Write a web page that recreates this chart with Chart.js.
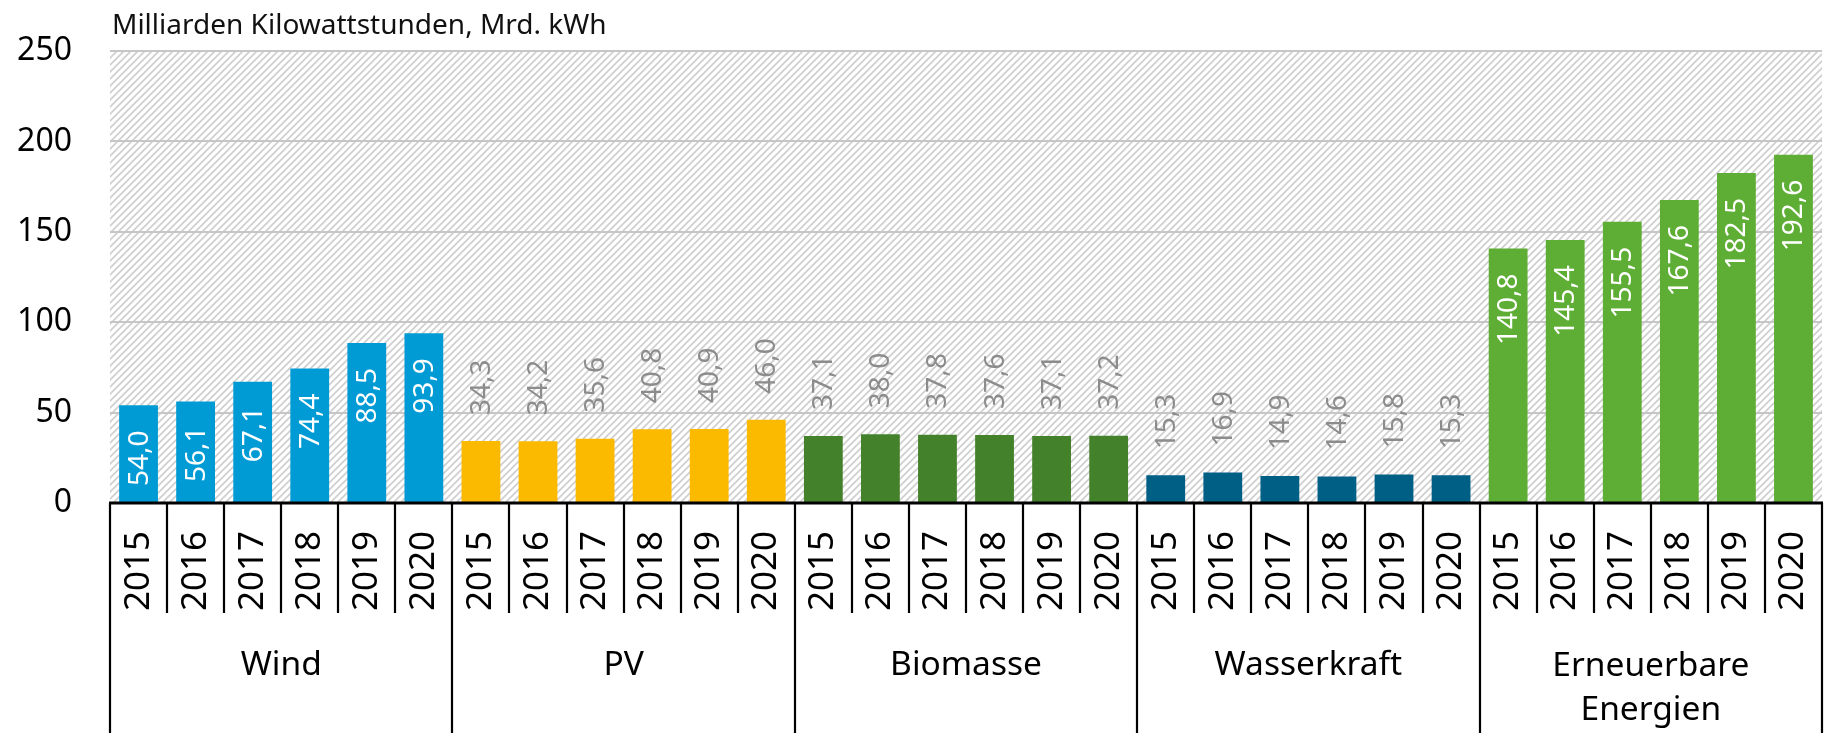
<!DOCTYPE html>
<html>
<head>
<meta charset="utf-8">
<script src="https://cdn.jsdelivr.net/npm/chart.js@4.4.1/dist/chart.umd.min.js"></script>
<style>
  html, body { margin: 0; padding: 0; background: #fff; }
  #c { display: block; }
</style>
</head>
<body>
<canvas id="c" width="1837" height="733"></canvas>
<script>
/* Stromerzeugung aus erneuerbaren Energien 2015-2020 */

const TITLE = 'Milliarden Kilowattstunden, Mrd. kWh';
const YEARS = ['2015', '2016', '2017', '2018', '2019', '2020'];
const GROUPS = [['Wind'], ['PV'], ['Biomasse'], ['Wasserkraft'], ['Erneuerbare', 'Energien']];

const WIND = [54.0, 56.1, 67.1, 74.4, 88.5, 93.9];
const PV = [34.3, 34.2, 35.6, 40.8, 40.9, 46.0];
const BIOMASSE = [37.1, 38.0, 37.8, 37.6, 37.1, 37.2];
const WASSER = [15.3, 16.9, 14.9, 14.6, 15.8, 15.3];
const EE_GESAMT = [140.8, 145.4, 155.5, 167.6, 182.5, 192.6];

const Y_TICKS = [0, 50, 100, 150, 200, 250];

const GROUP_COLORS = ['#009bd5', '#fbb900', '#43812b', '#005f85', '#5ead35'];
const LABEL_INSIDE = [true, false, false, false, true];

const FONT = '"Noto Sans", "Open Sans", sans-serif';

const series = [WIND, PV, BIOMASSE, WASSER, EE_GESAMT];
const values = series.flat();
const labels = series.flatMap(() => YEARS);
const groupOf = (i) => Math.floor(i / YEARS.length);

// Schraffur für den Hintergrund
function hatchPattern(ctx) {
  const s = 7;
  const tile = document.createElement('canvas');
  tile.width = s; tile.height = s;
  const t = tile.getContext('2d');
  t.fillStyle = '#fff';
  t.fillRect(0, 0, s, s);
  t.strokeStyle = '#d0d0d0';
  t.lineWidth = 1.8;
  t.beginPath();
  t.moveTo(-1, s + 1); t.lineTo(s + 1, -1);
  t.moveTo(-1, 1); t.lineTo(1, -1);
  t.moveTo(s - 1, s + 1); t.lineTo(s + 1, s - 1);
  t.stroke();
  return ctx.createPattern(tile, 'repeat');
}

const hatchPlugin = {
  id: 'hatch',
  beforeDraw(chart) {
    const { ctx, chartArea: a } = chart;
    ctx.save();
    ctx.fillStyle = hatchPattern(ctx);
    ctx.fillRect(a.left, a.top, a.right - a.left, a.bottom - a.top);
    ctx.restore();
  },
};

// Kategorienachse als Tabelle + Gruppennamen + Titel
const axisBoxPlugin = {
  id: 'axisBox',
  afterDraw(chart) {
    const { ctx, chartArea: a, scales: { x } } = chart;
    const n = values.length;
    const half = (x.getPixelForValue(1) - x.getPixelForValue(0)) / 2;
    const yearBottom = a.bottom + 110;
    ctx.save();
    ctx.strokeStyle = '#000';
    ctx.lineWidth = 2.2;
    ctx.beginPath();
    for (let i = 0; i <= n; i++) {
      const px = Math.round(i < n ? x.getPixelForValue(i) - half : x.getPixelForValue(n - 1) + half);
      const groupEdge = i % YEARS.length === 0;
      ctx.moveTo(px, a.bottom);
      ctx.lineTo(px, groupEdge ? chart.height : yearBottom);
    }
    ctx.stroke();
    ctx.lineWidth = 3;
    ctx.beginPath();
    ctx.moveTo(a.left - 1, a.bottom);
    ctx.lineTo(a.right + 1, a.bottom);
    ctx.stroke();

    ctx.fillStyle = '#000';
    ctx.font = `33.5px ${FONT}`;
    ctx.textAlign = 'center';
    ctx.textBaseline = 'alphabetic';
    GROUPS.forEach((lines, g) => {
      const first = x.getPixelForValue(g * YEARS.length);
      const last = x.getPixelForValue((g + 1) * YEARS.length - 1);
      const cx = (first + last) / 2;
      const base = lines.length > 1 ? 676 : 675;
      lines.forEach((t, k) => ctx.fillText(t, cx, base + k * 44));
    });

    ctx.font = `28px ${FONT}`;
    ctx.textAlign = 'left';
    ctx.fillStyle = '#111';
    ctx.fillText(TITLE, a.left + 2, 34);
    ctx.restore();
  },
};

// Werte an den Säulen (senkrecht)
const valueLabelPlugin = {
  id: 'valueLabels',
  afterDatasetsDraw(chart) {
    const { ctx } = chart;
    const meta = chart.getDatasetMeta(0);
    ctx.save();
    ctx.font = `28px ${FONT}`;
    ctx.textBaseline = 'middle';
    meta.data.forEach((bar, i) => {
      const txt = values[i].toFixed(1).replace('.', ',');
      const inside = LABEL_INSIDE[groupOf(i)];
      ctx.save();
      ctx.translate(bar.x, inside ? bar.y + 25 : bar.y - 26);
      ctx.rotate(-Math.PI / 2);
      ctx.textAlign = inside ? 'right' : 'left';
      ctx.fillStyle = inside ? '#fff' : '#8c8c8c';
      ctx.fillText(txt, 0, 1);
      ctx.restore();
    });
    ctx.restore();
  },
};

new Chart(document.getElementById('c'), {
  type: 'bar',
  data: {
    labels,
    datasets: [{
      data: values,
      backgroundColor: values.map((_, i) => GROUP_COLORS[groupOf(i)]),
      borderWidth: 0,
      barPercentage: 0.68,
      categoryPercentage: 1,
    }],
  },
  options: {
    responsive: false,
    animation: false,
    devicePixelRatio: 1,
    layout: { padding: { left: 0, right: 15, top: 51, bottom: 0 } },
    plugins: { legend: { display: false }, tooltip: { enabled: false } },
    scales: {
      x: {
        grid: { display: false },
        border: { display: false },
        ticks: {
          autoSkip: false,
          minRotation: 90,
          maxRotation: 90,
          padding: 20,
          color: '#000',
          font: { family: FONT, size: 35 },
        },
        afterFit(scale) {
          scale.height = 230;
          scale.paddingLeft = 0;
          scale.paddingRight = 0;
        },
      },
      y: {
        min: Y_TICKS[0],
        max: Y_TICKS[Y_TICKS.length - 1],
        afterBuildTicks(scale) { scale.ticks = Y_TICKS.map((v) => ({ value: v })); },
        grid: { color: '#c6c6c6', lineWidth: 2, drawTicks: false },
        border: { display: false },
        ticks: {
          padding: 38,
          color: '#000',
          font: { family: FONT, size: 32 },
        },
        afterFit(scale) {
          scale.width = 110;
          scale.paddingTop = 0;
          scale.paddingBottom = 0;
        },
      },
    },
  },
  plugins: [hatchPlugin, axisBoxPlugin, valueLabelPlugin],
});
</script>
</body>
</html>
